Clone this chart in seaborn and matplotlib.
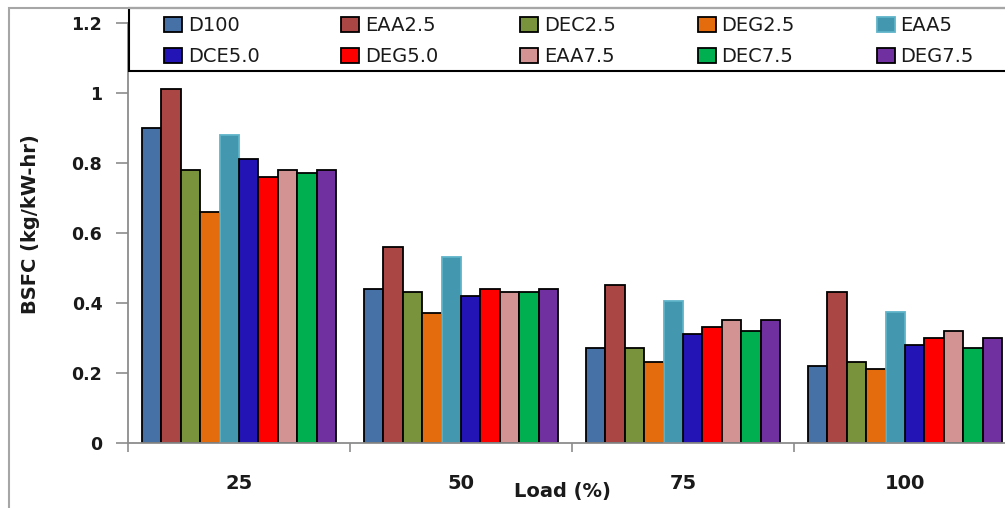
import matplotlib
matplotlib.use("Agg")
import matplotlib.pyplot as plt
from matplotlib.patches import Patch, Rectangle
import seaborn as sns
import pandas as pd

# Engine load categories (%)
loads = ["25", "50", "75", "100"]

# Fuel blends, in legend order
fuels = ["D100", "EAA2.5", "DEC2.5", "DEG2.5", "EAA5",
         "DCE5.0", "DEG5.0", "EAA7.5", "DEC7.5", "DEG7.5"]

# BSFC (kg/kW-hr) per fuel at each load
d100 = [0.90, 0.44, 0.27, 0.22]
eaa25 = [1.01, 0.56, 0.45, 0.43]
dec25 = [0.78, 0.43, 0.27, 0.23]
deg25 = [0.66, 0.37, 0.23, 0.21]
eaa5 = [0.88, 0.53, 0.405, 0.375]
dce50 = [0.81, 0.42, 0.31, 0.28]
deg50 = [0.76, 0.44, 0.33, 0.30]
eaa75 = [0.78, 0.43, 0.35, 0.32]
dec75 = [0.77, 0.43, 0.32, 0.27]
deg75 = [0.78, 0.44, 0.35, 0.30]

series = [d100, eaa25, dec25, deg25, eaa5, dce50, deg50, eaa75, dec75, deg75]

colors = ["#4671A6", "#AA4644", "#78933C", "#E46C0C", "#4398B0",
          "#2214B5", "#FF0000", "#D49393", "#00AF50", "#7030A0"]

yticks = [0, 0.2, 0.4, 0.6, 0.8, 1.0, 1.2]
ytick_labels = ["0", "0.2", "0.4", "0.6", "0.8", "1", "1.2"]

rows = []
for fuel, vals in zip(fuels, series):
    for load, v in zip(loads, vals):
        rows.append({"Load": load, "Fuel": fuel, "BSFC": v})
df = pd.DataFrame(rows)

sns.set_style("white")
plt.rcParams["font.family"] = ["DejaVu Sans"]
txt = "#1a1a1a"
gray = "#8c8c8c"

W, H = 1005, 508
fig = plt.figure(figsize=(W / 100, H / 100), dpi=100)
ax = fig.add_axes([128 / W, 1 - 443 / H, 888 / W, 420.3 / H])

sns.barplot(data=df, x="Load", y="BSFC", hue="Fuel", order=loads,
            hue_order=fuels, palette=colors, width=0.875, gap=0,
            edgecolor="black", linewidth=1.3, saturation=1,
            legend=False, ax=ax, errorbar=None)

# the EAA5 bars carry no dark outline
for bar in ax.containers[fuels.index("EAA5")]:
    bar.set_edgecolor("#5fb3c9")

ax.set_xlim(-0.5, 3.5)
ax.set_ylim(0, 1.2)
ax.set_yticks(yticks)
ax.set_yticklabels(ytick_labels, fontsize=12.5, fontweight="bold", color=txt)
ax.tick_params(axis="y", direction="out", length=8.5, width=1.2,
               color=gray, pad=10, left=True)

# category labels centred, tick marks between categories
ax.set_xticks(range(len(loads)))
ax.set_xticklabels(loads, fontsize=14, fontweight="bold", color=txt)
ax.tick_params(axis="x", which="major", length=0, pad=22)
ax.set_xticks([-0.5, 0.5, 1.5, 2.5, 3.5], minor=True)
ax.tick_params(axis="x", which="minor", direction="out", length=6.5,
               width=1.2, color=gray, bottom=True)

for side in ["top", "right"]:
    ax.spines[side].set_visible(False)
for side in ["left", "bottom"]:
    ax.spines[side].set_color(gray)
    ax.spines[side].set_linewidth(1.3)

ax.set_ylabel("BSFC (kg/kW-hr)", fontsize=14, fontweight="bold", color=txt)
ax.yaxis.set_label_coords((31 - 128) / 888, 0.52)
ax.yaxis.label.set_va("center")
ax.set_xlabel("Load (%)", fontsize=14, fontweight="bold", color=txt)
ax.xaxis.set_label_coords((562 - 128) / 888, (443 - 492) / 420.3)
ax.xaxis.label.set_va("center")

# legend box
fig.add_artist(Rectangle((129 / W, 1 - 71 / H), 1.0, (71 - 8) / H,
                         transform=fig.transFigure, facecolor="white",
                         edgecolor="black", linewidth=1.5, zorder=2))

# legend entries laid out row by row (matplotlib fills columns first)
ncol = 5
order = [r * ncol + c for c in range(ncol) for r in range(2)]
handles, labels = [], []
for i in order:
    f, c = fuels[i], colors[i]
    ec = "#5fb3c9" if f == "EAA5" else "black"
    handles.append(Patch(facecolor=c, edgecolor=ec, linewidth=1.3))
    labels.append(f)
leg = fig.legend(handles, labels, ncol=ncol, loc="upper left",
                 bbox_to_anchor=(164 / W, 1 - 16.5 / H), frameon=False,
                 borderpad=0, borderaxespad=0, handlelength=0.93,
                 handleheight=0.77, handletextpad=0.3, columnspacing=4.2,
                 labelspacing=0.6, fontsize=14)
for t in leg.get_texts():
    t.set_color(txt)
leg.set_zorder(5)

# outer chart border
fig.add_artist(Rectangle((9 / W, -0.1), 1.2, 1.1 - 8 / H,
                         transform=fig.transFigure, fill=False,
                         edgecolor="#a6a6a6", linewidth=1.5, zorder=3))

fig.savefig("out.png", dpi=100)
